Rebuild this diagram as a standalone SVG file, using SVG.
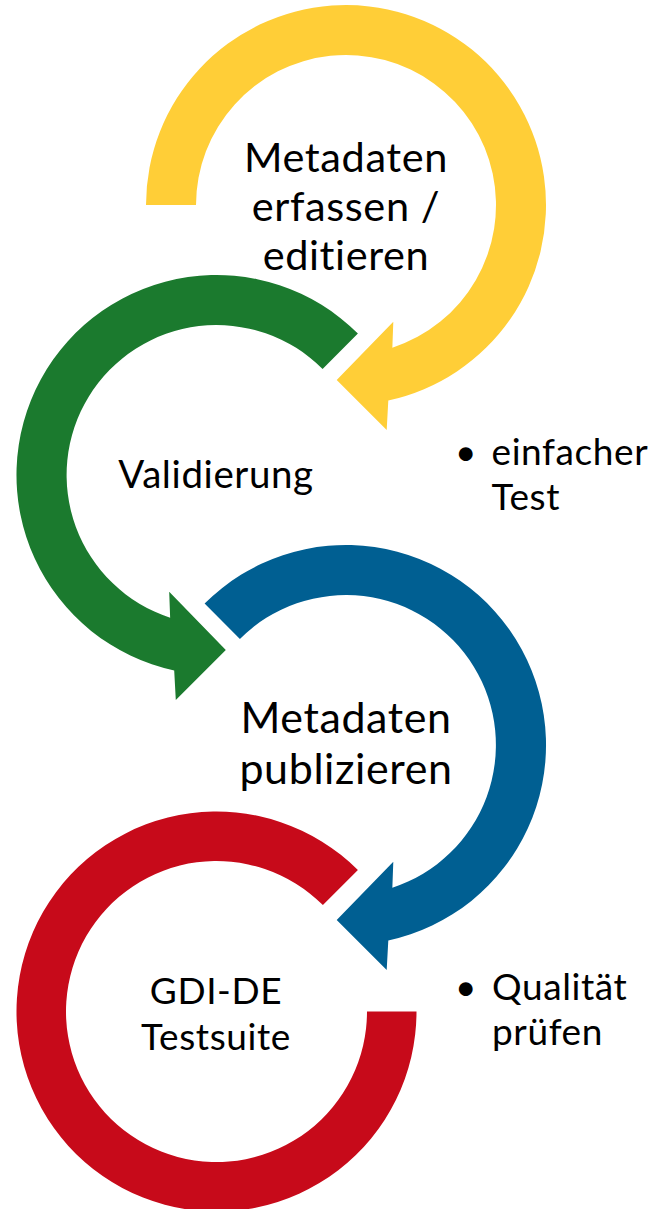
<svg xmlns="http://www.w3.org/2000/svg" width="656" height="1209" viewBox="0 0 656 1209">
<style>
text{font-family:Lato,"Open Sans","Liberation Sans",sans-serif;fill:#000;font-variant-ligatures:none;letter-spacing:0.6px}
.c{text-anchor:middle}
.yellow{fill:#FFCE37}
.green{fill:#1B7A2E}
.blue{fill:#005F92}
.red{fill:#C70A1A}
</style>
<rect width="656" height="1209" fill="#fff"/>
<g id="node-erfassen">
<path class="yellow" d="M146 205 A200 200 0 1 1 388.3 400.5 L386.7 430 L336.7 380 L393.3 321.7 L392.35 347.66 A150 150 0 1 0 196 205 Z"/>
<text class="c" x="346" y="172" font-size="41.5">Metadaten</text>
<text class="c" x="346" y="221" font-size="41.5">erfassen /</text>
<text class="c" x="346" y="270" font-size="41.5">editieren</text>
</g>
<g id="node-validierung">
<path class="green" d="M357.9 333.6 A200 200 0 1 0 174.2 670.5 L175.8 700 L225.8 650 L169.2 591.7 L170.15 617.66 A150 150 0 1 1 322.6 368.9 Z"/>
<text class="c" x="216" y="488" font-size="38.5">Validierung</text>
</g>
<g id="node-publizieren">
<path class="blue" d="M204.6 603.6 A200 200 0 1 1 388.3 940.5 L386.7 970 L336.7 920 L393.3 861.7 L392.35 887.66 A150 150 0 1 0 239.9 638.9 Z"/>
<text class="c" x="346" y="733" font-size="43" letter-spacing="0.8">Metadaten</text>
<text class="c" x="346" y="783.5" font-size="43" letter-spacing="0.8">publizieren</text>
</g>
<g id="node-testsuite">
<path class="red" d="M357.9 870.1 A200 200 0 1 0 416.5 1011.5 L367 1011.5 A150.5 150.5 0 1 1 322.9 905.1 Z"/>
<text class="c" x="216" y="1003.5" font-size="37" letter-spacing="0.3">GDI-DE</text>
<text class="c" x="216" y="1049.5" font-size="37">Testsuite</text>
</g>
<g id="note-einfacher-test">
<text class="c" x="466" y="465" font-size="37">•</text>
<text x="491.5" y="465" font-size="37" letter-spacing="0.9">einfacher</text>
<text x="491.5" y="510" font-size="37">Test</text>
</g>
<g id="note-qualitaet">
<text class="c" x="466" y="1000" font-size="37">•</text>
<text x="492" y="1000" font-size="37" letter-spacing="0.4">Qualität</text>
<text x="492" y="1045" font-size="37">prüfen</text>
</g>
<g id="connectors"></g>
</svg>
